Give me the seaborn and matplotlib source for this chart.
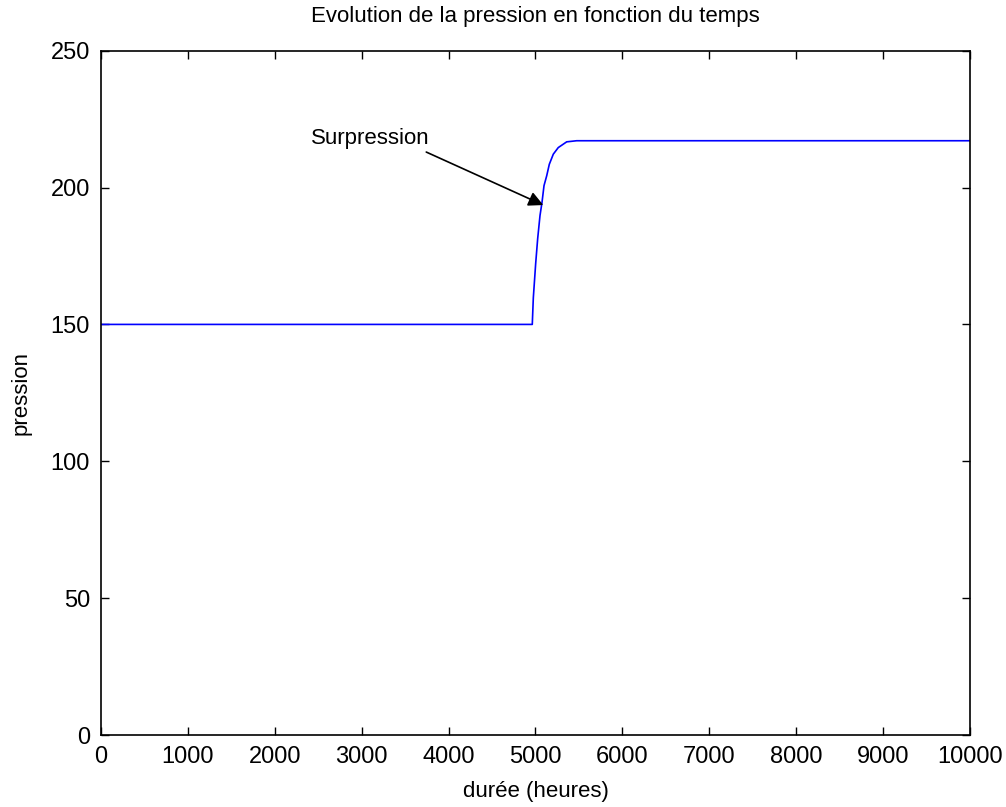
import matplotlib
matplotlib.use("Agg")
import matplotlib.pyplot as plt
import seaborn as sns
import pandas as pd

# Data
duree = [0, 1000, 2000, 3000, 4000, 4963, 4975, 5002, 5025, 5052, 5075, 5098,
         5129, 5159, 5205, 5262, 5359, 5474, 6000, 7000, 8000, 9000, 10000]
pression = [150, 150, 150, 150, 150, 150, 159.7, 172.2, 181.3, 189.8, 194.6, 200.7,
            204.3, 208.5, 212.2, 214.6, 216.7, 217.1, 217.1, 217.1, 217.1, 217.1, 217.1]

x_ticks = [0, 1000, 2000, 3000, 4000, 5000, 6000, 7000, 8000, 9000, 10000]
y_ticks = [0, 50, 100, 150, 200, 250]

title = "Evolution de la pression en fonction du temps"
xlabel = "durée (heures)"
ylabel = "pression"
annot_text = "Surpression"
annot_xy = (5090, 193.6)
annot_text_xy = (2420, 218)

sns.set_style("ticks")
plt.rcParams['font.family'] = ['Liberation Sans', 'DejaVu Sans']
plt.rcParams['text.color'] = 'black'
plt.rcParams['axes.labelcolor'] = 'black'

df = pd.DataFrame({"duree": duree, "pression": pression})

fig = plt.figure(figsize=(10.06, 8.07), dpi=100)
ax = fig.add_axes([0.1004, 0.0892, 0.8638, 0.8480])
sns.lineplot(data=df, x="duree", y="pression", ax=ax, color="#0000ff", linewidth=1.2)

ax.set_xlim(0, 10000)
ax.set_ylim(0, 250)
ax.set_xticks(x_ticks)
ax.set_yticks(y_ticks)
ax.set_xticklabels([str(t) for t in x_ticks])
ax.set_yticklabels([str(t) for t in y_ticks])
ax.tick_params(direction="in", length=6, width=1, top=True, right=True,
               labelsize=17, pad=8, colors="black")
for s in ax.spines.values():
    s.set_visible(True)
    s.set_color("black")
    s.set_linewidth(1.2)

ax.set_title(title, fontsize=16, pad=21, color="black")
ax.set_xlabel(xlabel, fontsize=16, labelpad=9, color="black")
ax.set_ylabel(ylabel, fontsize=16, labelpad=14, color="black")

ax.annotate(annot_text, xy=annot_xy, xytext=annot_text_xy, fontsize=16,
            va="center", ha="left", color="black",
            arrowprops=dict(arrowstyle="-|>", color="black", lw=1.2,
                            mutation_scale=22, shrinkA=0, shrinkB=0,
                            relpos=(0.83, 0.2)))

fig.savefig("out.png", dpi=100, facecolor="white")
